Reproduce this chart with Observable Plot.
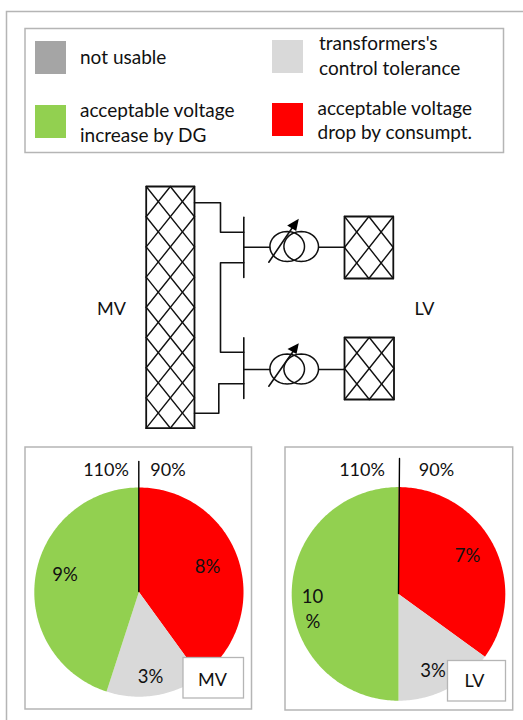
<!DOCTYPE html>
<html>
<head>
<meta charset="utf-8">
<script src="https://cdn.jsdelivr.net/npm/d3@7"></script>
<script src="https://cdn.jsdelivr.net/npm/@observablehq/plot@0.6"></script>
<style>html,body{margin:0;padding:0;background:#fff}svg{display:block}</style>
</head>
<body>
<div id="chart"></div>
<script>
// Chart data
const categories = ["acceptable voltage drop by consumpt.", "transformers's control tolerance", "acceptable voltage increase by DG"];
const mvValues = [8, 3, 9];
const lvValues = [7, 3, 10];
const colors = ["#ff0000", "#d9d9d9", "#92d050"];
const notUsableColor = "#a5a5a5";
const frameColor = "#b5b5b5";

// Layout
const W = 523, H = 720;
const pies = [
  {name: "MV", values: mvValues, cx: 138.4, cy: 591.6, r: 104.6, left: "110%", right: "90%", lx: 105.5, rx: 167.5, ly: 470,
   labels: [["8%", 207, 566.5], ["3%", 150, 676.5], ["9%", 64.5, 575]],
   spoke: [[138.3, 461], [138.3, 591]]},
  {name: "LV", values: lvValues, cx: 398, cy: 593.4, r: 106.8, left: "110%", right: "90%", lx: 361.5, rx: 436, ly: 470,
   labels: [["7%", 467, 556], ["3%", 432.5, 671], ["10", 312, 597], ["%", 312.5, 622]],
   spoke: [[399, 458], [398, 593]]}
];
const frames = [
  [6.5, 11.5, 560, 760], [25, 28.5, 503.5, 152.5], [25, 447, 251.5, 709], [285, 447, 512.7, 710]
];
const swatches = [
  [35, 41, 66, 74, notUsableColor], [272, 40, 303, 73, colors[1]],
  [35, 105, 66, 138, colors[2]], [272, 103, 303, 136, colors[0]]
];
const labelBoxes = [[183, 657.5, 243.5, 698, "MV"], [447.5, 660.5, 505.5, 701, "LV"]];
const legendText = [
  ["not usable", 79.5, 57], ["transformers's", 318.5, 43], ["control tolerance", 318.5, 68],
  ["acceptable voltage", 79.5, 110], ["increase by DG", 79.5, 135],
  ["acceptable voltage", 317, 108], ["drop by consumpt.", 317, 132]
];
const sideLabels = [["MV", 111, 309], ["LV", 424, 309]];
const boxLabels = [["MV", 212, 680], ["LV", 474, 681]];

// Schematic: hatched blocks [x0, y0, x1, y1, period]
const hatched = [[145.7, 186, 194, 427.7, 30.2], [344, 216, 392.8, 278, 31], [344, 337, 393.5, 399, 31]];
const wires = [
  [[194, 202.3], [220, 202.3], [220, 231.7], [243.3, 231.7]],
  [[243.3, 216.7], [243.3, 277]],
  [[243.3, 262.3], [220, 262.3], [220, 351.7], [243.3, 351.7]],
  [[243.3, 337.3], [243.3, 398]],
  [[194, 412.7], [218.3, 412.7], [218.3, 383.3], [243.3, 383.3]],
  [[243.3, 246.7], [269.3, 246.7]], [[318.3, 246.7], [344, 246.7]],
  [[243.3, 369], [269.3, 369]], [[318.3, 369], [344, 369]],
  [[268.3, 261.7], [293.3, 225]], [[268.3, 385.7], [293.3, 350]]
];
const coils = [[286.7, 246], [300.7, 246], [286.7, 368.5], [300.7, 368.5]];
const coilRx = 17.3, coilRy = 15;
const arrowHeads = [
  [[298.3, 218.3], [286.7, 225], [295.7, 230.5]],
  [[298.3, 342.7], [287, 348.5], [296, 353.5]]
];

// Derived mark data
const rectPath = ([x0, y0, x1, y1]) => [[x0, y0], [x1, y0], [x1, y1], [x0, y1], [x0, y0]];
const toLines = (list) => list.flatMap((pts, id) => pts.map(([x, y]) => ({x, y, id})));

// wedge polygons from the pie layout
const wedges = pies.flatMap((p) => {
  const arcs = d3.pie().sort(null)(p.values);
  return arcs.flatMap((a, i) => {
    const n = Math.max(2, Math.ceil((a.endAngle - a.startAngle) * 60));
    const pts = [{x: p.cx, y: p.cy, id: p.name + i, c: colors[i]}];
    for (let k = 0; k <= n; k++) {
      const t = a.startAngle + (a.endAngle - a.startAngle) * k / n;
      pts.push({x: p.cx + p.r * Math.sin(t), y: p.cy - p.r * Math.cos(t), id: p.name + i, c: colors[i]});
    }
    return pts;
  });
});

// diagonal hatch clipped to each block
function hatchLines([x0, y0, x1, y1, p]) {
  const segs = [];
  const slope = (2 * p) / (x1 - x0);
  for (let yy = y0 - 2 * p * Math.ceil((y1 - y0) / (2 * p)) - 2 * p; yy < y1; yy += p) {
    // down-right line, through (x0, yy)
    let tA = Math.max(x0, x0 + (y0 - yy) / slope);
    let tB = Math.min(x1, x0 + (y1 - yy) / slope);
    if (tB > tA) segs.push([[tA, yy + (tA - x0) * slope], [tB, yy + (tB - x0) * slope]]);
    // down-left line, through (x1, yy)
    tA = Math.min(x1, x1 - (y0 - yy) / slope);
    tB = Math.max(x0, x1 - (y1 - yy) / slope);
    if (tA > tB) segs.push([[tA, yy + (x1 - tA) * slope], [tB, yy + (x1 - tB) * slope]]);
  }
  return segs;
}
const hatchSegs = hatched.flatMap(hatchLines);
const ellipse = ([cx, cy]) => d3.range(0, 49).map((k) => {
  const t = k / 48 * 2 * Math.PI;
  return [cx + coilRx * Math.cos(t), cy + coilRy * Math.sin(t)];
});

const font = "Lato, Carlito, Calibri, sans-serif";
const textColor = "#111";
const txt = (rows, anchor, size) => Plot.text(rows, {
  x: (d) => d[1], y: (d) => d[2], text: (d) => d[0], textAnchor: anchor, lineAnchor: "middle",
  fontSize: size, fill: textColor, fontFamily: font
});
const rects = (rows, fill, stroke, sw) => Plot.rect(rows, {
  x1: (d) => d[0], y1: (d) => d[1], x2: (d) => d[2], y2: (d) => d[3],
  fill, stroke, strokeWidth: sw
});

const chart = Plot.plot({
  width: W, height: H, margin: 0,
  x: {domain: [0, W], range: [0, W], axis: null},
  y: {domain: [0, H], range: [0, H], axis: null},
  style: {background: "#fff"},
  marks: [
    rects(frames.slice(0, 2), "none", frameColor, 1.5),
    rects(frames.slice(2), "#fff", frameColor, 1.5),
    rects(swatches, (d) => d[4], "none", 0),
    txt(legendText, "start", 19),
    txt(sideLabels, "middle", 18),
    // schematic
    Plot.line(toLines(hatched.map(rectPath)), {x: "x", y: "y", z: "id", stroke: "#111", strokeWidth: 1.8}),
    Plot.line(toLines(hatchSegs), {x: "x", y: "y", z: "id", stroke: "#111", strokeWidth: 1.4}),
    Plot.line(toLines(wires), {x: "x", y: "y", z: "id", stroke: "#111", strokeWidth: 1.6}),
    Plot.line(toLines(coils.map(ellipse)), {x: "x", y: "y", z: "id", stroke: "#111", strokeWidth: 1.5}),
    Plot.line(toLines(arrowHeads), {x: "x", y: "y", z: "id", fill: "#000", stroke: "none", curve: "linear-closed"}),
    // pies
    Plot.line(wedges, {x: "x", y: "y", z: "id", fill: "c", stroke: "none", curve: "linear-closed"}),
    Plot.line(toLines(pies.map((p) => p.spoke)), {x: "x", y: "y", z: "id", stroke: "#000", strokeWidth: 1.4}),
    rects(labelBoxes, "#fff", frameColor, 1.3),
    ...pies.flatMap((p) => [
      txt([[p.left, p.lx, p.ly], [p.right, p.rx, p.ly]], "middle", 18),
      txt(p.labels, "middle", 18.5)
    ]),
    txt(boxLabels, "middle", 18)
  ]
});
document.getElementById("chart").append(chart);
</script>
</body>
</html>
